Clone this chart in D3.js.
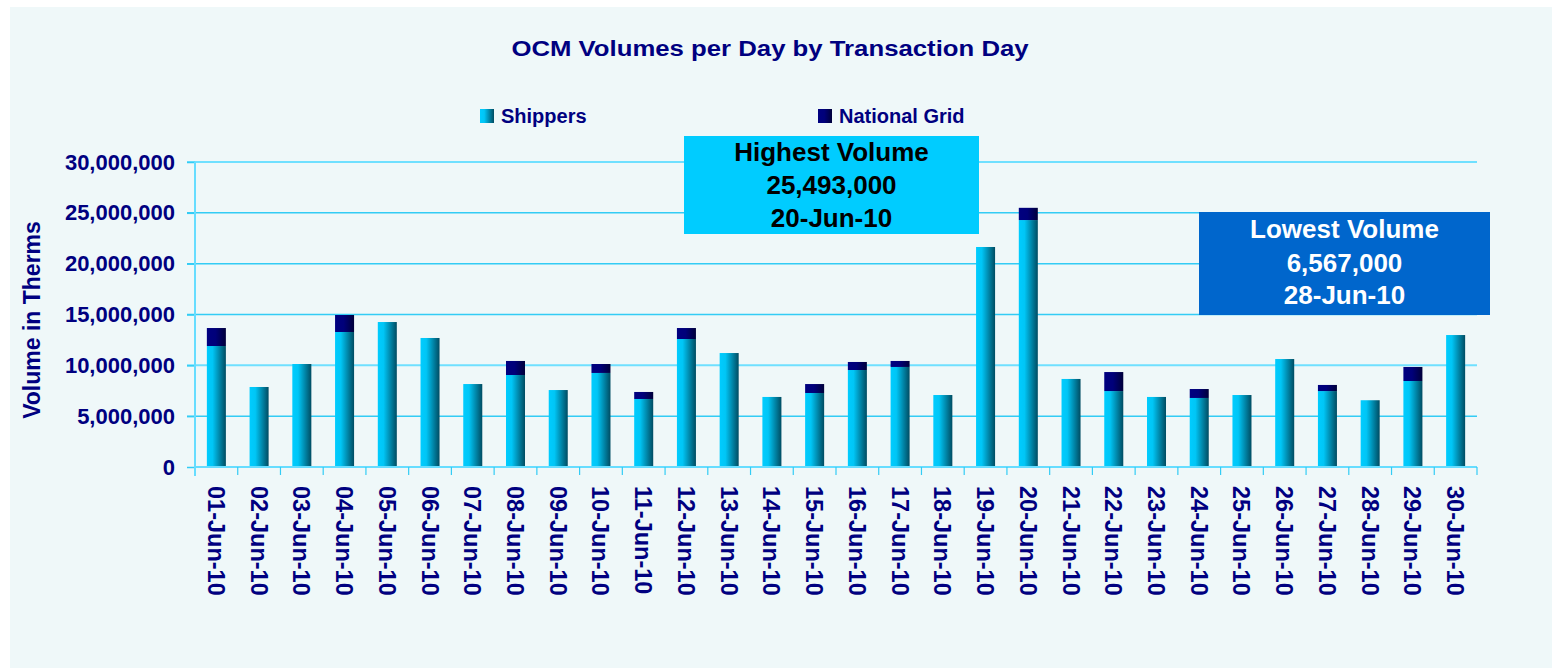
<!DOCTYPE html>
<html><head><meta charset="utf-8">
<script src="https://cdn.jsdelivr.net/npm/d3@7"></script>
<style>body{margin:0;background:#fff}svg{display:block}text{font-family:"Liberation Sans",Arial,sans-serif;font-weight:bold}</style>
</head><body>
<svg id="c" width="1552" height="668"></svg>
<script>
const days = ["01-Jun-10","02-Jun-10","03-Jun-10","04-Jun-10","05-Jun-10","06-Jun-10","07-Jun-10","08-Jun-10","09-Jun-10","10-Jun-10","11-Jun-10","12-Jun-10","13-Jun-10","14-Jun-10","15-Jun-10","16-Jun-10","17-Jun-10","18-Jun-10","19-Jun-10","20-Jun-10","21-Jun-10","22-Jun-10","23-Jun-10","24-Jun-10","25-Jun-10","26-Jun-10","27-Jun-10","28-Jun-10","29-Jun-10","30-Jun-10"];
const shippers = [11900000,7870000,10130000,13280000,14260000,12690000,8160000,9050000,7570000,9250000,6690000,12590000,11210000,6890000,7280000,9540000,9840000,7080000,21640000,24290000,8660000,7470000,6890000,6790000,7080000,10620000,7470000,6567000,8460000,12980000];
const nationalGrid = [1770000,0,0,1670000,0,0,0,1380000,0,880000,690000,1080000,0,0,880000,790000,590000,0,0,1203000,0,1870000,0,880000,0,0,600000,0,1380000,0];
const yTicks = [0,5000000,10000000,15000000,20000000,25000000,30000000];
const seriesNames = ["Shippers","National Grid"];
const highest = ["Highest Volume","25,493,000","20-Jun-10"];
const lowest = ["Lowest Volume","6,567,000","28-Jun-10"];

const svg = d3.select("#c");
const navy = "#000080";
const gridCol = "#33CCF5";
const defs = svg.append("defs");
function grad(id, stops){
  const g = defs.append("linearGradient").attr("id",id).attr("x1","0").attr("x2","1").attr("y1","0").attr("y2","0");
  stops.forEach(s=>g.append("stop").attr("offset",s[0]).attr("stop-color",s[1]));
}
grad("gShip",[["0%","#00CCFF"],["30%","#00C6F6"],["100%","#004C62"]]);
grad("gNG",[["0%","#000080"],["45%","#00007A"],["100%","#00003A"]]);

svg.append("rect").attr("x",10).attr("y",7).attr("width",1542).attr("height",661).attr("fill","#EFF8F9");

const L=195, R=1477, T=162, B=467;
const x = d3.scaleBand().domain(days).range([L,R]).paddingInner(0.555).paddingOuter(0.2775);
const y = d3.scaleLinear().domain([0,30000000]).range([B,T]);

// gridlines
svg.append("g").selectAll("line").data(yTicks.slice(1)).join("line")
  .attr("x1",L-8).attr("x2",R).attr("y1",d=>y(d)).attr("y2",d=>y(d))
  .attr("stroke",(d,i)=> (d===10000000||d===30000000)?"#6FE0FF":gridCol).attr("stroke-width",(d)=> (d===10000000||d===30000000)?2:1.5);

// y axis
const yAxis = d3.axisLeft(y).tickValues(yTicks).tickSize(8).tickPadding(12).tickFormat(d3.format(","));
const ya = svg.append("g").attr("transform",`translate(${L},0)`).call(yAxis);
ya.select(".domain").remove();
ya.selectAll(".tick line").attr("stroke",gridCol).attr("stroke-width",1.5);
ya.selectAll("text").attr("fill",navy).attr("font-size",22).style("font-family","'Liberation Sans',Arial,sans-serif").style("font-weight","bold");
svg.append("line").attr("x1",L).attr("x2",L).attr("y1",T).attr("y2",B+9).attr("stroke","#66DDFF").attr("stroke-width",2);

// bars
const step = x.step();
const bars = svg.append("g");
days.forEach((d,i)=>{
  bars.append("rect").attr("x",x(d)).attr("width",x.bandwidth()).attr("y",y(shippers[i])).attr("height",y(0)-y(shippers[i])).attr("fill","url(#gShip)");
  if(nationalGrid[i]>0){
    bars.append("rect").attr("x",x(d)).attr("width",x.bandwidth()).attr("y",y(shippers[i]+nationalGrid[i])).attr("height",y(shippers[i])-y(shippers[i]+nationalGrid[i])).attr("fill","url(#gNG)");
  }
});

// x axis
svg.append("line").attr("x1",L).attr("x2",R).attr("y1",B).attr("y2",B).attr("stroke","#66DDFF").attr("stroke-width",2);
const bounds = d3.range(days.length+1).map(i=>L+ i*step);
svg.append("g").selectAll("line").data(bounds.slice(1)).join("line")
  .attr("x1",d=>d).attr("x2",d=>d).attr("y1",B).attr("y2",B+8).attr("stroke",gridCol).attr("stroke-width",1.2);
svg.append("g").selectAll("text").data(days).join("text")
  .attr("transform",d=>`translate(${x(d)+x.bandwidth()/2},${B+19}) rotate(90)`)
  .attr("dy","0.36em").attr("text-anchor","start").attr("fill",navy).attr("font-size",23.5).text(d=>d);

// y title
svg.append("text").attr("transform","translate(32,320) rotate(-90)").attr("text-anchor","middle").attr("dy","0.36em")
  .attr("fill",navy).attr("font-size",23).text("Volume in Therms");

// title
svg.append("text").attr("transform","translate(770,56) scale(1.17,1)").attr("text-anchor","middle").attr("fill",navy).attr("font-size",22).text("OCM Volumes per Day by Transaction Day");

// legend
const legX=[480,818];
seriesNames.forEach((s,i)=>{
  svg.append("rect").attr("x",legX[i]).attr("y",109).attr("width",14).attr("height",14).attr("fill",i===0?"url(#gShip)":"url(#gNG)");
  svg.append("text").attr("x",legX[i]+21).attr("y",123).attr("fill",navy).attr("font-size",20).text(s);
});

// annotation boxes
function box(x0,y0,w,h,fill,col,lines,base){
  svg.append("rect").attr("x",x0).attr("y",y0).attr("width",w).attr("height",h).attr("fill",fill);
  lines.forEach((t,i)=>svg.append("text").attr("x",x0+w/2).attr("y",base[i]).attr("text-anchor","middle").attr("fill",col).attr("font-size",26).text(t));
}
box(684,136,295,98,"#00CCFF","#000000",highest,[161,194,227]);
box(1199,212,291,103,"#0066CC","#FFFFFF",lowest,[238,272,304]);
</script>
</body></html>
